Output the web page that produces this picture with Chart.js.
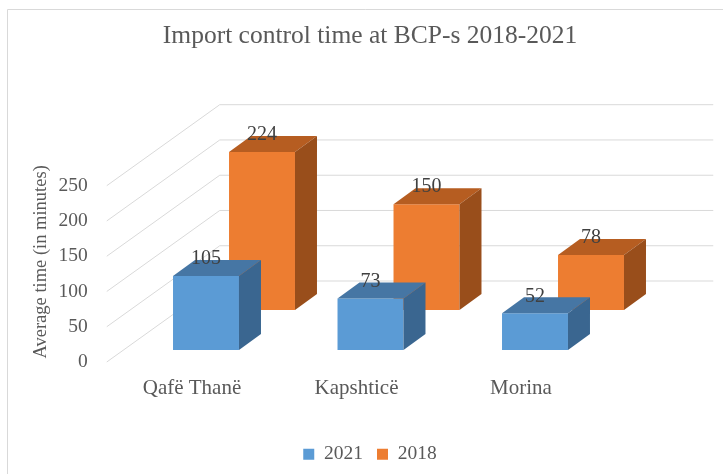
<!DOCTYPE html>
<html>
<head>
<meta charset="utf-8">
<script src="https://cdn.jsdelivr.net/npm/chart.js@4.4.1/dist/chart.umd.min.js"></script>
<style>
  html, body { margin: 0; padding: 0; background: #ffffff; }
  #wrap { position: relative; width: 723px; height: 474px; }
</style>
</head>
<body>
<div id="wrap"><canvas id="c" width="723" height="474"></canvas></div>
<script>
// ---- data ----
const categories = ['Qafë Thanë', 'Kapshticë', 'Morina'];
const seriesNames = ['2021', '2018'];
const values2021 = [105, 73, 52];
const values2018 = [224, 150, 78];
const yTicks = [0, 50, 100, 150, 200, 250];
const chartTitle = 'Import control time at BCP-s 2018-2021';
const yTitle = 'Average time (in minutes)';

// ---- style ----
const FONT = "'Liberation Serif', 'Times New Roman', serif";
const TEXT = '#595959';
const GRID = '#d9d9d9';
const faceColors = [
  { front: '#5B9BD5', top: '#4676A4', side: '#3A6690' },
  { front: '#ED7D31', top: '#B65D21', side: '#994E1B' }
];
const DEPTH = { dx: 22, dy: -16 };          // bar depth (oblique)
const ROW_SHIFT = [{ x: 0, y: 0 }, { x: 56, y: -40 }]; // back row offset
const WALL = { fx: -17, fy: 12, bx: 96, by: -69 };

const frame3d = {
  id: 'frame3d',
  beforeDraw(chart) {
    const ctx = chart.ctx;
    ctx.save();
    ctx.strokeStyle = GRID;
    ctx.lineWidth = 1;
    ctx.beginPath();
    ctx.moveTo(7.5, 474);
    ctx.lineTo(7.5, 9.5);
    ctx.lineTo(723, 9.5);
    ctx.stroke();
    ctx.restore();
  },
  beforeDatasetsDraw(chart) {
    const ctx = chart.ctx, ys = chart.scales.y, ca = chart.chartArea;
    ctx.save();
    ctx.strokeStyle = GRID;
    ctx.lineWidth = 1;
    ys.ticks.forEach(t => {
      const py = ys.getPixelForValue(t.value);
      ctx.beginPath();
      ctx.moveTo(ca.left + WALL.fx, py + WALL.fy);
      ctx.lineTo(ca.left + WALL.bx, py + WALL.by);
      ctx.lineTo(ca.right + WALL.bx, py + WALL.by);
      ctx.stroke();
    });
    ctx.restore();
  },
  beforeDatasetDraw(chart, args) {
    const ctx = chart.ctx;
    const s = ROW_SHIFT[args.index];
    ctx.save();
    ctx.translate(s.x, s.y);
  },
  afterDatasetDraw(chart, args) {
    const ctx = chart.ctx;
    const col = faceColors[args.index];
    const ds = chart.data.datasets[args.index];
    args.meta.data.forEach((bar, i) => {
      const p = bar.getProps(['x', 'y', 'base', 'width'], true);
      const l = p.x - p.width / 2, r = p.x + p.width / 2;
      // top face
      ctx.fillStyle = col.top;
      ctx.beginPath();
      ctx.moveTo(l, p.y);
      ctx.lineTo(r, p.y);
      ctx.lineTo(r + DEPTH.dx, p.y + DEPTH.dy);
      ctx.lineTo(l + DEPTH.dx, p.y + DEPTH.dy);
      ctx.closePath();
      ctx.fill();
      // side face
      ctx.fillStyle = col.side;
      ctx.beginPath();
      ctx.moveTo(r, p.y);
      ctx.lineTo(r + DEPTH.dx, p.y + DEPTH.dy);
      ctx.lineTo(r + DEPTH.dx, p.base + DEPTH.dy);
      ctx.lineTo(r, p.base);
      ctx.closePath();
      ctx.fill();
      // value label
      ctx.fillStyle = '#404040';
      ctx.font = '20px ' + FONT;
      ctx.textAlign = 'center';
      ctx.textBaseline = 'middle';
      ctx.fillText(String(ds.data[i]), p.x, p.y - 17);
    });
    ctx.restore();
  }
};

new Chart(document.getElementById('c'), {
  type: 'bar',
  data: {
    labels: categories,
    datasets: [
      { label: seriesNames[0], data: values2021, backgroundColor: faceColors[0].front,
        borderWidth: 0, grouped: false, order: 1, clip: false },
      { label: seriesNames[1], data: values2018, backgroundColor: faceColors[1].front,
        borderWidth: 0, grouped: false, order: 2, clip: false }
    ]
  },
  options: {
    responsive: false,
    animation: false,
    devicePixelRatio: 1,
    categoryPercentage: 1,
    barPercentage: 0.401,
    layout: { padding: { left: 17, right: 0, top: 0, bottom: 0 } },
    plugins: {
      tooltip: { enabled: false },
      title: {
        display: true,
        text: chartTitle,
        color: TEXT,
        font: { family: FONT, size: 25.5, weight: 'normal' },
        padding: { top: 20.7, bottom: 122.4 }
      },
      legend: {
        position: 'bottom',
        labels: {
          color: TEXT,
          font: { family: FONT, size: 19.5 },
          boxWidth: 11,
          boxHeight: 11,
          padding: 14
        }
      }
    },
    scales: {
      x: {
        grid: { display: false, drawTicks: false },
        border: { display: false },
        ticks: {
          color: TEXT,
          font: { family: FONT, size: 21 },
          padding: 25.5,
          labelOffset: -14,
          maxRotation: 0,
          autoSkip: false
        },
        afterFit(s) { s.height = 80.5; }
      },
      y: {
        min: yTicks[0],
        max: yTicks[yTicks.length - 1],
        grid: { display: false, drawTicks: false },
        border: { display: false },
        ticks: {
          stepSize: yTicks[1] - yTicks[0],
          color: TEXT,
          font: { family: FONT, size: 19.5 },
          padding: 36,
          labelOffset: 12
        },
        title: {
          display: true,
          text: yTitle,
          color: TEXT,
          font: { family: FONT, size: 18.5 },
          padding: { top: 13, bottom: 0 }
        },
        afterFit(s) { s.width = 106.75; }
      },
      yR: {
        type: 'linear',
        position: 'right',
        grid: { display: false, drawTicks: false },
        border: { display: false },
        ticks: { display: false },
        afterFit(s) { s.width = 105.75; }
      }
    }
  },
  plugins: [frame3d]
});
</script>
</body>
</html>
